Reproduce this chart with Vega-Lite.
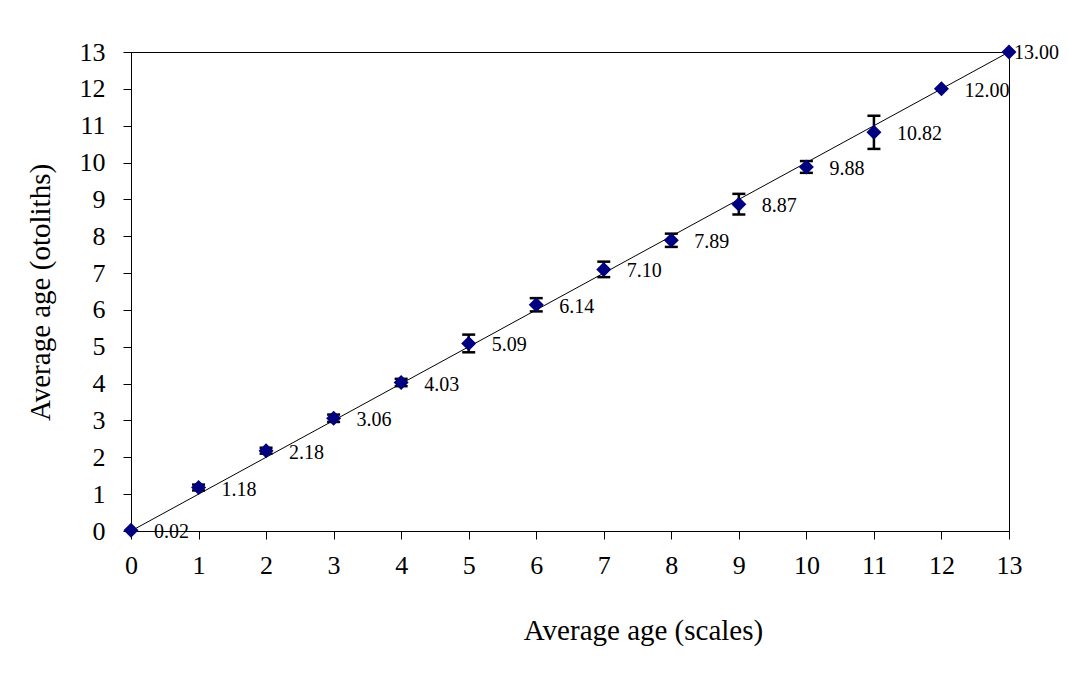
{
  "$schema": "https://vega.github.io/schema/vega-lite/v6.json",
  "autosize": "none",
  "padding": {"left": 131, "top": 52, "right": 59, "bottom": 154},
  "width": 878,
  "height": 479,
  "background": "white",
  "config": {
    "font": "Liberation Serif",
    "view": {"stroke": "black", "strokeWidth": 1},
    "axis": {
      "labelFont": "Liberation Serif",
      "titleFont": "Liberation Serif",
      "labelColor": "black",
      "titleColor": "black",
      "domainColor": "black",
      "tickColor": "black",
      "grid": false,
      "labelFontSize": 26,
      "titleFontSize": 29,
      "titleFontWeight": "normal",
      "tickSize": 8,
      "labelFlush": false,
      "labelOverlap": false
    }
  },
  "datasets": {
    "pts": [
      {"scales": 0, "otoliths": 0.02},
      {"scales": 1, "otoliths": 1.18, "lo": 1.1, "hi": 1.26},
      {"scales": 2, "otoliths": 2.18, "lo": 2.1, "hi": 2.26},
      {"scales": 3, "otoliths": 3.06, "lo": 2.96, "hi": 3.16},
      {"scales": 4, "otoliths": 4.03, "lo": 3.93, "hi": 4.13},
      {"scales": 5, "otoliths": 5.09, "lo": 4.85, "hi": 5.33},
      {"scales": 6, "otoliths": 6.14, "lo": 5.96, "hi": 6.32},
      {"scales": 7, "otoliths": 7.10, "lo": 6.89, "hi": 7.31},
      {"scales": 8, "otoliths": 7.89, "lo": 7.71, "hi": 8.07},
      {"scales": 9, "otoliths": 8.87, "lo": 8.59, "hi": 9.15},
      {"scales": 10, "otoliths": 9.88, "lo": 9.72, "hi": 10.04},
      {"scales": 11, "otoliths": 10.82, "lo": 10.37, "hi": 11.27},
      {"scales": 12, "otoliths": 12.00},
      {"scales": 13, "otoliths": 13.00}
    ],
    "trend": [
      {"scales": 0, "otoliths": 0},
      {"scales": 13, "otoliths": 13}
    ]
  },
  "encoding": {
    "x": {
      "field": "scales", "type": "quantitative",
      "scale": {"domain": [0, 13], "nice": false, "zero": false},
      "axis": {"title": "Average age (scales)", "values": [0,1,2,3,4,5,6,7,8,9,10,11,12,13], "format": "d", "labelPadding": 13, "titleX": 512, "titleY": 99, "titleBaseline": "middle", "titleAlign": "center"}
    },
    "y": {
      "field": "otoliths", "type": "quantitative",
      "scale": {"domain": [0, 13], "nice": false, "zero": false},
      "axis": {"title": "Average age (otoliths)", "values": [0,1,2,3,4,5,6,7,8,9,10,11,12,13], "format": "d", "labelPadding": 18, "titleX": -91, "titleY": 240, "titleBaseline": "middle", "titleAlign": "center", "titleAngle": -90}
    }
  },
  "layer": [
    {
      "data": {"name": "trend"},
      "mark": {"type": "line", "color": "black", "strokeWidth": 1, "clip": true},
      "encoding": {}
    },
    {
      "data": {"name": "pts"},
      "transform": [{"filter": "isValid(datum.lo)"}],
      "mark": {"type": "rule", "color": "black", "strokeWidth": 2.5},
      "encoding": {
        "y": {"field": "lo", "type": "quantitative"},
        "y2": {"field": "hi"}
      }
    },
    {
      "data": {"name": "pts"},
      "transform": [{"filter": "isValid(datum.lo)"}],
      "mark": {"type": "tick", "orient": "horizontal", "color": "black", "size": 13, "thickness": 2.5, "opacity": 1},
      "encoding": {
        "y": {"field": "lo", "type": "quantitative"}
      }
    },
    {
      "data": {"name": "pts"},
      "transform": [{"filter": "isValid(datum.lo)"}],
      "mark": {"type": "tick", "orient": "horizontal", "color": "black", "size": 13, "thickness": 2.5, "opacity": 1},
      "encoding": {
        "y": {"field": "hi", "type": "quantitative"}
      }
    },
    {
      "data": {"name": "pts"},
      "mark": {"type": "point", "shape": "diamond", "filled": true, "color": "#000080", "size": 225, "opacity": 1, "clip": false}
    },
    {
      "data": {"name": "pts"},
      "transform": [{"filter": "datum.scales < 13"}],
      "mark": {"type": "text", "align": "left", "baseline": "middle", "dx": 23, "dy": 2, "fontSize": 20, "color": "black"},
      "encoding": {"text": {"field": "otoliths", "type": "quantitative", "format": ".2f"}}
    },
    {
      "data": {"name": "pts"},
      "transform": [{"filter": "datum.scales == 13"}],
      "mark": {"type": "text", "align": "left", "baseline": "middle", "dx": 5, "dy": 1, "fontSize": 20, "color": "black"},
      "encoding": {"text": {"field": "otoliths", "type": "quantitative", "format": ".2f"}}
    }
  ]
}
